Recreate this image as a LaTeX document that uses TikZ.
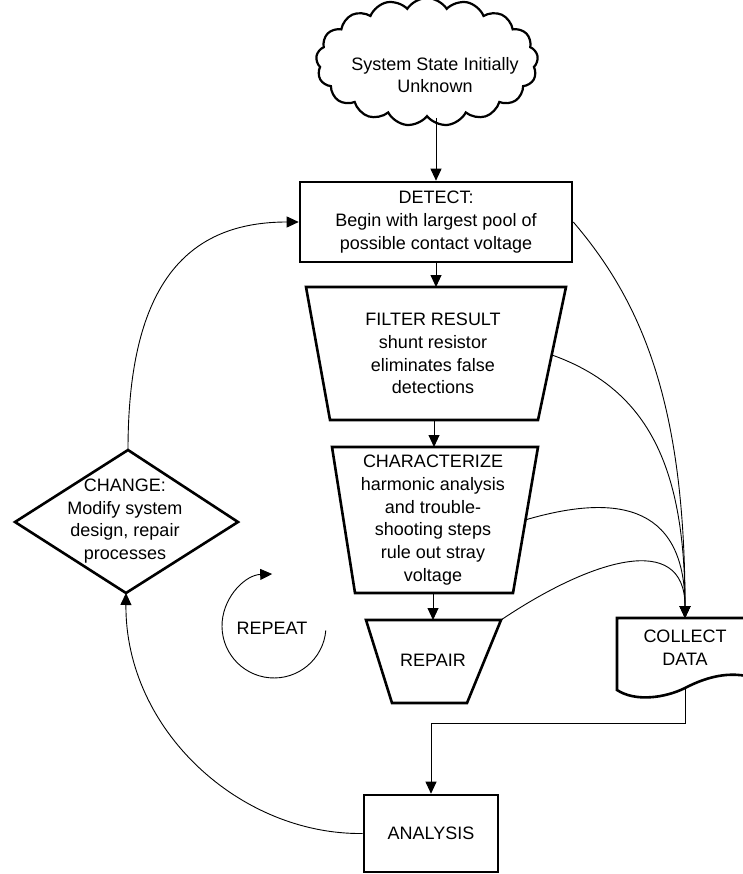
\documentclass[tikz,border=0pt]{standalone}
\usepackage{fontspec}
\setmainfont{Liberation Sans}
\usetikzlibrary{arrows.meta,shapes.symbols}
\begin{document}
\begin{tikzpicture}[x=1pt,y=-1pt,
  box/.style={draw, line width=2.6pt, line join=miter},
  conn/.style={line width=0.9pt},
  arr/.style={conn, -{Triangle[length=12pt,width=11pt]}},
  txt/.style={align=center, font=\fontsize{18}{22.8}\selectfont, inner sep=0pt},
]
\useasboundingbox[fill=white] (0,0) rectangle (743,874);

% cloud
\node[cloud, draw, line width=2.2pt, cloud puffs=17, cloud puff arc=115, aspect=1.8,
      minimum width=222pt, minimum height=128pt, inner sep=0pt] (cloud) at (427,62) {};
\node[txt] (cloudtxt) at (435,75) {System State Initially\\Unknown};

% detect
\node[box, txt, minimum width=272pt, minimum height=80pt] (detect) at (436,222)
  {DETECT:\\Begin with largest pool of\\possible contact voltage};

% filter
\coordinate (fTop) at (436,287);
\coordinate (fBot) at (434,420);
\coordinate (fR) at (552,355);
\draw[box] (306,287) -- (566,287) -- (538,420) -- (330,420) -- cycle;
\node[txt] (filter) at (433,353.5) {FILTER RESULT\\shunt resistor\\eliminates false\\detections};

% characterize
\coordinate (cTop) at (434,447);
\coordinate (cBot) at (433,593);
\coordinate (cR) at (525,520);
\draw[box] (332,447) -- (538,447) -- (513,593) -- (355,593) -- cycle;
\node[txt] (charac) at (433,520) {CHARACTERIZE\\harmonic analysis\\and trouble-\\shooting steps\\rule out stray\\voltage};

% repair
\coordinate (rTop) at (433,620);
\coordinate (rTR) at (501,620);
\draw[box] (366,620) -- (501,620) -- (467,703) -- (392,703) -- cycle;
\node[txt] (repair) at (433,660) {REPAIR};

% collect data
\coordinate (cdTop) at (685,618);
\coordinate (cdBot) at (685,688);
\draw[box] (617,690) -- (617,618) -- (760,618) -- (760,680)
  .. controls (735,670) and (710,675) .. (685,688)
  .. controls (665,698) and (635,702) .. (617,690) -- cycle;
\node[txt] (collect) at (685,648) {COLLECT\\DATA};

% analysis
\node[box, txt, minimum width=134pt, minimum height=77pt] (analysis) at (431,833.5) {ANALYSIS};

% change
\coordinate (chT) at (128,450);
\coordinate (chB) at (126,593);
\draw[box] (128,450) -- (238,522) -- (126,593) -- (15,522) -- cycle;
\node[txt] (change) at (125,521) {CHANGE:\\Modify system\\design, repair\\processes};

% repeat
\node[txt] (repeat) at (272,628) {REPEAT};
\draw[arr] ([shift={(53.8,2.5)}]repeat.center) arc[start angle=5, end angle=268, radius=52];

% main flow
\draw[arr] (detect.north |- cloud.south) -- (detect.north);
\draw[arr] (detect.south) -- (fTop);
\draw[arr] (fBot) -- (cTop);
\draw[arr] (cBot) -- (rTop);

% data collection curves
\draw[arr] (detect.east) .. controls (640,300) and (685,400) .. (cdTop);
\draw[arr] (fR) .. controls (650,390) and (685,470) .. (cdTop);
\draw[arr] (cR) .. controls (610,495) and (685,500) .. (cdTop);
\draw[arr] (rTR) .. controls (590,560) and (685,530) .. (cdTop);

% analysis loop
\draw[arr] (cdBot) -- ++(0,35) -| (analysis.north);
\draw[arr] (analysis.west) .. controls (240,835) and (125,730) .. (chB);
\draw[arr] (chT) .. controls (128,280) and (190,222) .. (detect.west);
\end{tikzpicture}
\end{document}
